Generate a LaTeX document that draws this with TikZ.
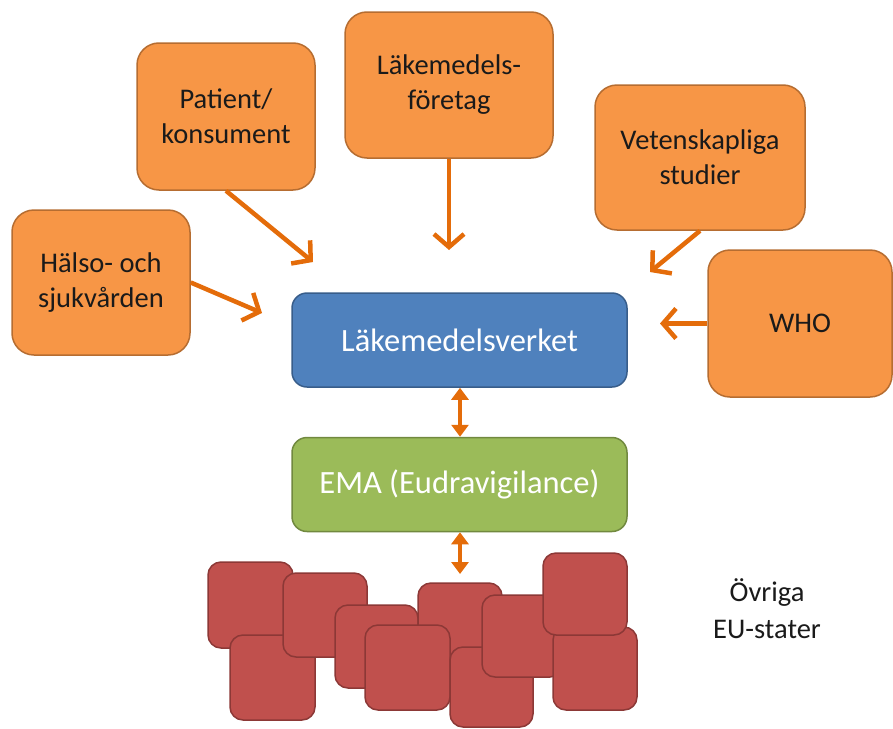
\documentclass[tikz,border=0pt]{standalone}
\usepackage{fontspec}
\setmainfont{Carlito}
\usetikzlibrary{arrows.meta}
\definecolor{ofill}{HTML}{F79646}
\definecolor{oline}{HTML}{B66D31}
\definecolor{bfill}{HTML}{4F81BD}
\definecolor{bline}{HTML}{385D8A}
\definecolor{gfill}{HTML}{9BBB59}
\definecolor{gline}{HTML}{71893F}
\definecolor{rfill}{HTML}{C0504D}
\definecolor{rline}{HTML}{8C3836}
\definecolor{arr}{HTML}{E46C0A}
\definecolor{txt}{HTML}{1A1A1A}
\tikzset{
  obox/.style={draw=oline, fill=ofill, line width=1.5pt, rounded corners=22pt, inner sep=0pt,
    align=center, text=txt, font=\fontsize{28.5}{35}\selectfont},
  cbox/.style={line width=1.5pt, rounded corners=15pt, inner sep=0pt, align=center, text=white,
    font=\fontsize{32.5}{38}\selectfont, minimum width=335pt, minimum height=94pt},
  redbox/.style={draw=rline, fill=rfill, line width=1.5pt, rounded corners=13pt},
  inarrow/.style={draw=arr, line width=4.5pt, -{Straight Barb[length=13pt,width=30pt,line width=4.5pt]}},
  dblarrow/.style={draw=arr, line width=4pt, {Triangle[length=12pt,width=17pt]}-{Triangle[length=12pt,width=17pt]}}
}
\begin{document}
\begin{tikzpicture}[x=1pt,y=-1pt]
\useasboundingbox (0,0) rectangle (893,728);

% orange source boxes
\node[obox, minimum width=178pt, minimum height=145pt] (hs) at (101,282.5) {Hälso- och\\sjukvården};
\node[obox, minimum width=178pt, minimum height=147pt] (pk) at (226,116.5) {Patient/\\konsument};
\node[obox, minimum width=208pt, minimum height=146pt] (lf) at (449,85) {Läkemedels-\\företag};
\node[obox, minimum width=210pt, minimum height=145pt] (vs) at (700,157.5) {Vetenskapliga\\studier};
\node[obox, minimum width=184pt, minimum height=147pt] (who) at (800,323.5) {WHO};

% central boxes
\node[cbox, draw=bline, fill=bfill] (lmv) at (459.5,340) {Läkemedelsverket};
\node[cbox, draw=gline, fill=gfill] (ema) at (459.5,484.5) {EMA (Eudravigilance)};

% arrow tips
\coordinate (thso) at (262,313);
\coordinate (tpk) at (313,262);
\coordinate (tlf) at (449,250);
\coordinate (tvs) at (650,272);
\coordinate (twho) at (660,323.5);
\coordinate (teu) at (460,574);

\draw[inarrow] (hs.east) -- (thso);
\draw[inarrow] (pk.south) -- (tpk);
\draw[inarrow] (lf.south) -- (tlf);
\draw[inarrow] (vs.south) -- (tvs);
\draw[inarrow] (who.west) -- (twho);

\draw[dblarrow] (lmv.south -| 460,0) -- (ema.north -| 460,0);
\draw[dblarrow] (ema.south -| 460,0) -- (teu);

% EU member states (red squares)
\draw[redbox] (208,562) rectangle (293,648);
\draw[redbox] (230,635) rectangle (315,720);
\draw[redbox] (283,573) rectangle (367,657);
\draw[redbox] (335,605) rectangle (418,688);
\draw[redbox] (418,583) rectangle (502,667);
\draw[redbox] (365,625) rectangle (450,710);
\draw[redbox] (450,647) rectangle (533,727);
\draw[redbox] (482,595) rectangle (563,677);
\draw[redbox] (553,627) rectangle (637,710);
\draw[redbox] (543,553) rectangle (627,635);

\node[align=center, text=txt, font=\fontsize{28.5}{37}\selectfont] (eu) at (767,609) {Övriga\\EU-stater};
\end{tikzpicture}
\end{document}
